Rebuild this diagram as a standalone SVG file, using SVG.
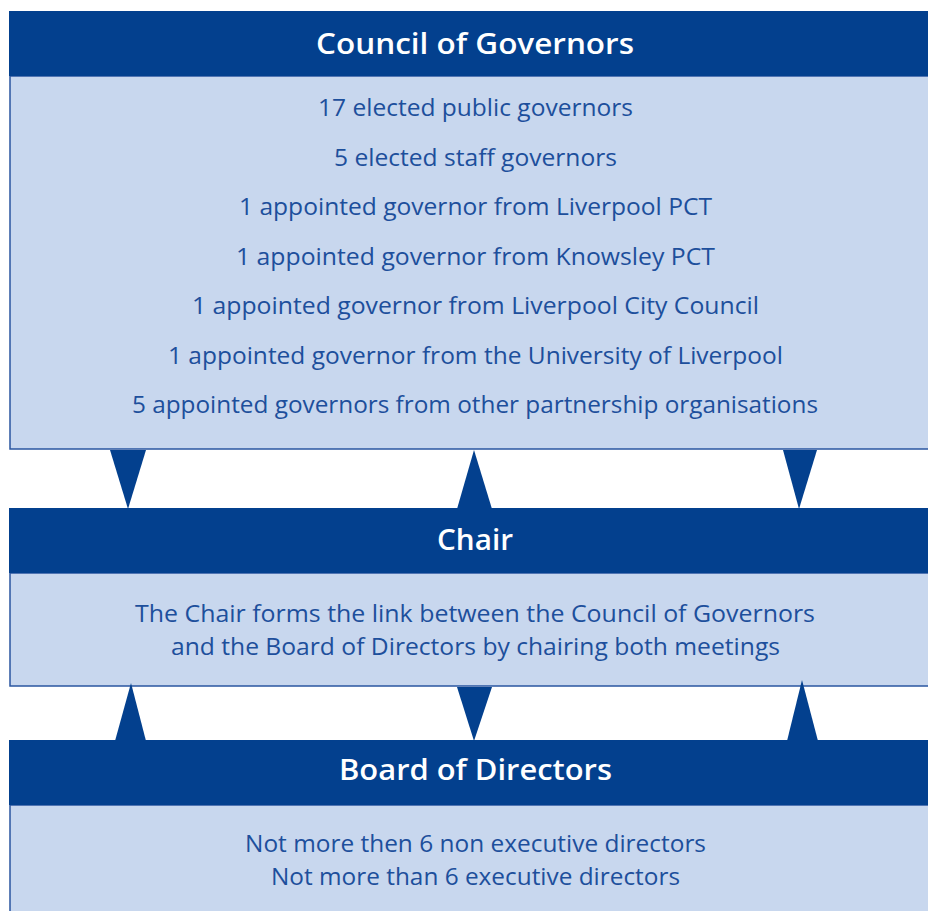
<svg xmlns="http://www.w3.org/2000/svg" width="928" height="911" viewBox="0 0 928 911">
<style>
.hdr{fill:#03408e}
.body{fill:#c8d7ee;stroke:#2a56a0;stroke-width:1.5}
.tri{fill:#03408e}
.title{font-family:"Open Sans","Liberation Sans",Arial,sans-serif;font-weight:600;font-size:28px;fill:#ffffff;text-anchor:middle}
.txt{font-family:"Open Sans","Liberation Sans",Arial,sans-serif;font-size:23px;fill:#1d4f9c;text-anchor:middle}
</style>
<rect width="928" height="911" fill="#ffffff"/>
<g id="council">
<rect class="body" x="10" y="76" width="930" height="373"/>
<rect class="hdr" x="9" y="11" width="930" height="65"/>
<text class="title" x="475" y="54" textLength="318" lengthAdjust="spacingAndGlyphs">Council of Governors</text>
<text class="txt" x="475.5" y="116" textLength="315" lengthAdjust="spacingAndGlyphs">17 elected public governors</text>
<text class="txt" x="475.5" y="166" textLength="283" lengthAdjust="spacingAndGlyphs">5 elected staff governors</text>
<text class="txt" x="475.5" y="215" textLength="473" lengthAdjust="spacingAndGlyphs">1 appointed governor from Liverpool PCT</text>
<text class="txt" x="475.5" y="265" textLength="479" lengthAdjust="spacingAndGlyphs">1 appointed governor from Knowsley PCT</text>
<text class="txt" x="475.5" y="314" textLength="567" lengthAdjust="spacingAndGlyphs">1 appointed governor from Liverpool City Council</text>
<text class="txt" x="475.5" y="364" textLength="615" lengthAdjust="spacingAndGlyphs">1 appointed governor from the University of Liverpool</text>
<text class="txt" x="475" y="413" textLength="686" lengthAdjust="spacingAndGlyphs">5 appointed governors from other partnership organisations</text>
</g>
<g id="chair">
<rect class="body" x="10" y="573" width="930" height="113"/>
<rect class="hdr" x="9" y="508" width="930" height="65"/>
<text class="title" x="475" y="550" textLength="76" lengthAdjust="spacingAndGlyphs">Chair</text>
<text class="txt" x="475" y="622" textLength="680" lengthAdjust="spacingAndGlyphs">The Chair forms the link between the Council of Governors</text>
<text class="txt" x="475.5" y="655" textLength="609" lengthAdjust="spacingAndGlyphs">and the Board of Directors by chairing both meetings</text>
</g>
<g id="board">
<rect class="body" x="10" y="805" width="930" height="120"/>
<rect class="hdr" x="9" y="740" width="930" height="65"/>
<text class="title" x="475.5" y="780" textLength="273" lengthAdjust="spacingAndGlyphs">Board of Directors</text>
<text class="txt" x="475.5" y="852" textLength="461" lengthAdjust="spacingAndGlyphs">Not more then 6 non executive directors</text>
<text class="txt" x="475.5" y="885" textLength="409" lengthAdjust="spacingAndGlyphs">Not more than 6 executive directors</text>
</g>
<g id="connectors">
<polygon class="tri" points="110,450 146,450 128,509"/>
<polygon class="tri" points="474,450 457,509 492,509"/>
<polygon class="tri" points="783,450 817,450 799,509"/>
<polygon class="tri" points="131,683 115,741 146,741"/>
<polygon class="tri" points="457,687 492,687 474,741"/>
<polygon class="tri" points="802,680 787,741 818,741"/>
</g>
</svg>
